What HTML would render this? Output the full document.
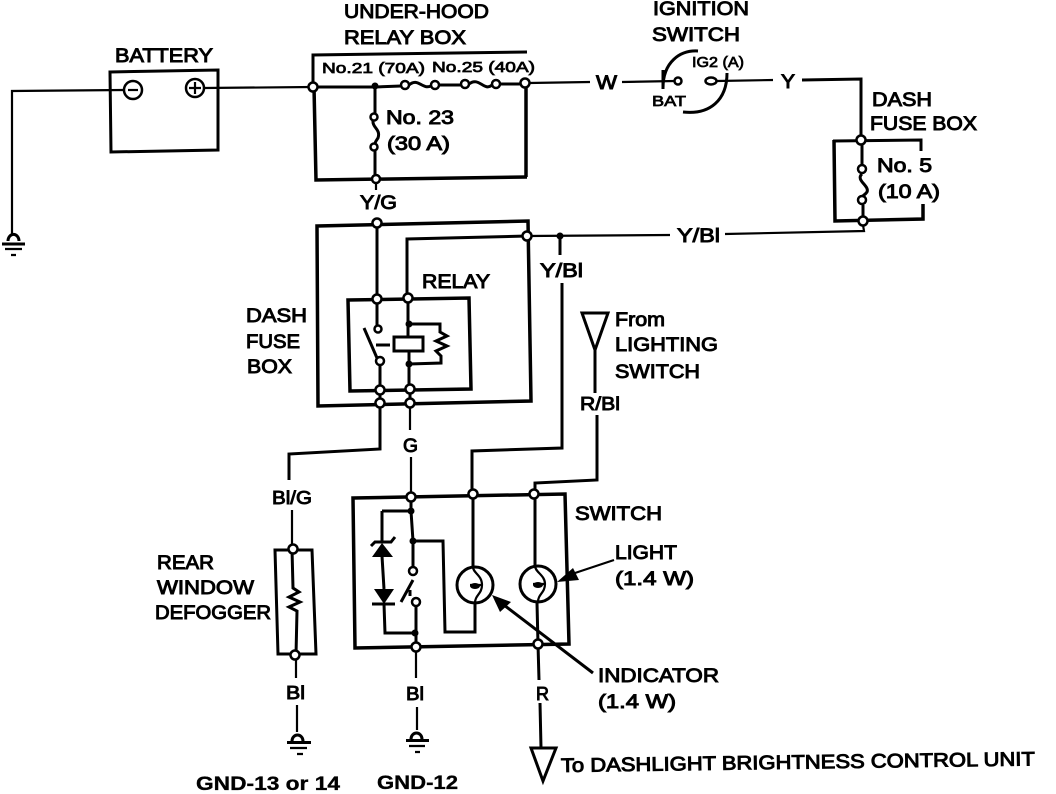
<!DOCTYPE html>
<html><head><meta charset="utf-8"><style>
html,body{margin:0;padding:0;background:#fff}
svg{display:block}
text{font-family:"Liberation Sans",sans-serif;fill:#000;stroke:#000;stroke-width:.95;font-size:19.500px}
.s{font-size:15px;stroke-width:.75}
.t{font-size:18px;stroke-width:.9}
.b{font-weight:bold;stroke-width:.35}
.w{fill:none;stroke:#000;stroke-width:2.2;stroke-linejoin:miter}
.h{fill:none;stroke:#000;stroke-width:3.5}
.m{fill:none;stroke:#000;stroke-width:3}
.j{fill:#fff;stroke:#000;stroke-width:2.5}
.d{fill:#000;stroke:none}
</style></head><body>
<svg width="1056" height="794" viewBox="0 0 1056 794" xmlns="http://www.w3.org/2000/svg">
<rect width="1056" height="794" fill="#fff"/>

<!-- Battery -->
<path class="w" d="M12 235V91L124 90"/>
<path class="m" d="M110 72L218 70V150L111 152Z"/>
<path class="w" d="M204 88L313 87"/>
<circle cx="133" cy="90" r="9" class="j"/><path class="w" d="M128 90H138"/>
<circle cx="195" cy="88" r="9" class="j"/><path class="w" d="M189 88H201M195 82V94"/>

<!-- Ground left -->
<path class="m" d="M8 241a5 6 0 0 1 11 0"/><path class="m" d="M2 244H25"/><path class="w" d="M5 249H22M11 255H16"/>

<!-- Under-hood relay box -->
<path class="m" d="M527 52L313 55V87"/>
<path class="h" d="M314 87L316 180L527 177"/>
<path class="h" d="M526 84V177"/>
<path class="m" d="M313 87H375L401 86M409 85C418 77 422 90 431 86M439 85H461M469 84C479 76 484 92 492 85M500 84H522"/>
<path class="w" d="M529 83L590 82"/>
<circle cx="405" cy="85" r="4" class="j"/><circle cx="435" cy="85" r="4" class="j"/>
<circle cx="465" cy="84" r="4" class="j"/><circle cx="496" cy="84" r="4" class="j"/>
<circle cx="375" cy="86" r="3.5" class="d"/>
<circle cx="313" cy="87" r="4.5" class="j"/><circle cx="525" cy="83" r="4.5" class="j"/>
<path class="m" d="M375 86V113M373 120C372 128 381 129 378 138C376 141 375 142 375 144M375 151V176"/>
<circle cx="374" cy="117" r="3.5" class="j"/><circle cx="374" cy="147" r="3.5" class="j"/>
<circle cx="376" cy="179" r="4" class="j"/>
<path class="w" d="M376 183V190"/>

<!-- Ignition switch -->
<path class="w" d="M622 82L675 81M717 81L773 80"/>
<path class="m" d="M698 51C680 50 663 62 663 88M663 70V89M683 112C710 115 727 100 727 73"/>
<circle cx="678" cy="81" r="3.5" class="j"/><ellipse cx="711" cy="81" rx="5.5" ry="3.5" class="j"/>
<path class="m" d="M802 80L861 79V140"/>

<!-- Dash fuse box top right -->
<path class="m" d="M921 151V140L833 141"/>
<path class="h" d="M834 140L835 221L923 219V204"/>
<path class="m" d="M862 141V165M862 174C855 180 870 186 867 192C865 195 862 196 862 197M863 205V221"/>
<circle cx="862" cy="169" r="4" class="j"/><circle cx="862" cy="200" r="4" class="j"/>
<circle cx="861" cy="140" r="4.5" class="j"/><circle cx="863" cy="221" r="4.5" class="j"/>
<path class="w" d="M863 225L864 231L725 234M670 235L527 236"/>
<circle cx="560" cy="236" r="3.5" class="d"/>
<path class="m" d="M560 236V255M562 283V448L472 451V492"/>

<!-- Dash fuse box centre -->
<path class="h" d="M317 226L528 221L531 401L318 406Z"/>
<path class="m" d="M527 236L407 239V298M377 223V299M377 299V325"/>
<circle cx="377" cy="223" r="4.5" class="j"/><circle cx="527" cy="236" r="4.5" class="j"/>

<!-- Relay -->
<path class="h" d="M348 300L469 298L471 389L350 391Z"/>
<circle cx="378" cy="329" r="3.5" class="j"/>
<path class="m" d="M364 328L377 358M376 345H390"/>
<rect x="394" y="337" width="29" height="14" fill="#fff" stroke="#000" stroke-width="3"/>
<path class="m" d="M408 298V337M409 351V389"/>
<circle cx="409" cy="324" r="3.5" class="d"/><circle cx="409" cy="364" r="3.5" class="d"/>
<path class="m" d="M409 324H440V332L447 336L436 341L447 346L436 351L441 356V363L409 364"/>
<path class="m" d="M380 365V403M410 389V403"/>
<circle cx="380" cy="361" r="4" class="j"/>
<circle cx="377" cy="299" r="4.5" class="j"/><circle cx="408" cy="298" r="4.5" class="j"/>
<circle cx="380" cy="390" r="4.5" class="j"/><circle cx="410" cy="389" r="4.5" class="j"/>
<circle cx="380" cy="403" r="4.5" class="j"/><circle cx="410" cy="403" r="4.5" class="j"/>
<path class="m" d="M380 407V449L289 454V480"/>
<path class="w" d="M410 407V430M411 457V493"/>

<!-- Lighting feed -->
<path class="m" d="M582 313H608L595 350ZM595 350V393M597 415V480L535 483V494"/>

<!-- Defogger -->
<path class="w" d="M292 510V545"/>
<path class="m" d="M275 550H312L316 654H278Z"/>
<path class="m" d="M292 549L293 588L299 592L289 597L300 602L289 607L297 611L296 655"/>
<circle cx="293" cy="549" r="4.5" class="j"/><circle cx="295" cy="655" r="4.5" class="j"/>
<path class="w" d="M296 660V678M297 705V732"/>
<path class="m" d="M292 741a5.500 6 0 0 1 11 0M287 742.500H311"/><path class="w" d="M290 748H307M297 754H303"/>

<!-- Switch unit -->
<path class="h" d="M353 498L565 494L569 644L355 648Z"/>
<path class="m" d="M411 497V511L413 541V567M382 511H411M382 511V542M382 556L384 589M384 604L385 633H416V647M413 541H443L445 632H475V603M416 606V633"/>
<circle cx="411" cy="511" r="3.500" class="d"/><circle cx="413" cy="541" r="3.500" class="d"/><circle cx="415" cy="633" r="3.500" class="d"/>
<path class="d" d="M382 543L393 557H372Z"/>
<path class="m" d="M371 546L375 542H391L395 537"/>
<path class="d" d="M374 589H394L384 604Z"/>
<path class="m" d="M372 604H395"/>
<circle cx="413" cy="571" r="4" class="j"/><circle cx="416" cy="602" r="4" class="j"/>
<path class="m" d="M401 602L413 580M410 590V596"/>

<path class="m" d="M473 494V567M535 494V565"/>
<circle cx="475" cy="585" r="18" fill="#fff" stroke="#000" stroke-width="3"/>
<circle cx="538" cy="584" r="18" fill="#fff" stroke="#000" stroke-width="3"/>
<path class="w" d="M473 567C473 573 482 575 482 585C482 594 475 595 475 603M482 585H470"/>
<ellipse cx="475" cy="586" rx="5" ry="3" fill="#000"/>
<path class="w" d="M535 566C535 572 545 575 545 584C545 593 538 594 538 602M545 584H533"/>
<ellipse cx="538" cy="585" rx="5" ry="3" fill="#000"/>
<path class="m" d="M537 603L538 644M538 644L539 680M540 703L541 748"/>
<path class="m" d="M475 603V632"/>

<circle cx="411" cy="497" r="4.500" class="j"/><circle cx="473" cy="494" r="4.500" class="j"/><circle cx="534" cy="494" r="4.500" class="j"/>
<circle cx="416" cy="647" r="4.500" class="j"/><circle cx="538" cy="644" r="4.500" class="j"/>

<!-- Callout arrows -->
<path class="m" d="M500 602L593 673"/>
<path class="d" d="M492 595L511 602L500 612Z"/>
<path class="w" d="M572 574L614 560"/>
<path class="d" d="M557 582L573 568L579 580Z"/>

<!-- Bottom wires -->
<path class="w" d="M416 652V678M417 707V730"/>
<path class="m" d="M411 739a5.500 6 0 0 1 11 0M406 740.500H429"/><path class="w" d="M409 746H425M415 752H420"/>
<path class="m" d="M531 748H556L543 781Z"/>

<!-- Labels -->
<text x="344" y="18" textLength="145" lengthAdjust="spacingAndGlyphs">UNDER-HOOD</text>
<text x="344" y="44" textLength="122" lengthAdjust="spacingAndGlyphs">RELAY BOX</text>
<text x="115" y="62" textLength="98" lengthAdjust="spacingAndGlyphs">BATTERY</text>
<text class="s" x="322" y="73" textLength="103" lengthAdjust="spacingAndGlyphs">No.21 (70A)</text>
<text class="s" x="432" y="72" textLength="103" lengthAdjust="spacingAndGlyphs">No.25 (40A)</text>
<text x="386" y="124" textLength="68" lengthAdjust="spacingAndGlyphs">No. 23</text>
<text x="387" y="150" textLength="63" lengthAdjust="spacingAndGlyphs">(30 A)</text>
<text x="360" y="209" textLength="37" lengthAdjust="spacingAndGlyphs">Y/G</text>
<text x="596" y="89" textLength="21" lengthAdjust="spacingAndGlyphs">W</text>
<text x="781" y="88" textLength="14" lengthAdjust="spacingAndGlyphs">Y</text>
<text x="653" y="15" textLength="96" lengthAdjust="spacingAndGlyphs">IGNITION</text>
<text x="652" y="41" textLength="88" lengthAdjust="spacingAndGlyphs">SWITCH</text>
<text class="s" x="692" y="67" textLength="52" lengthAdjust="spacingAndGlyphs">IG2 (A)</text>
<text class="s" x="652" y="106" textLength="34" lengthAdjust="spacingAndGlyphs">BAT</text>
<text x="872" y="106" textLength="60" lengthAdjust="spacingAndGlyphs">DASH</text>
<text x="870" y="130" textLength="107" lengthAdjust="spacingAndGlyphs">FUSE BOX</text>
<text x="877" y="172" textLength="55" lengthAdjust="spacingAndGlyphs">No. 5</text>
<text x="878" y="198" textLength="62" lengthAdjust="spacingAndGlyphs">(10 A)</text>
<text x="677" y="242" textLength="43" lengthAdjust="spacingAndGlyphs">Y/Bl</text>
<text x="540" y="277" textLength="43" lengthAdjust="spacingAndGlyphs">Y/Bl</text>
<text x="422" y="288" textLength="68" lengthAdjust="spacingAndGlyphs">RELAY</text>
<text x="246" y="322" textLength="61" lengthAdjust="spacingAndGlyphs">DASH</text>
<text x="246" y="348" textLength="54" lengthAdjust="spacingAndGlyphs">FUSE</text>
<text x="247" y="373" textLength="45" lengthAdjust="spacingAndGlyphs">BOX</text>
<text x="403" y="452" textLength="15" lengthAdjust="spacingAndGlyphs">G</text>
<text x="615" y="326" textLength="50" lengthAdjust="spacingAndGlyphs">From</text>
<text x="615" y="351" textLength="103" lengthAdjust="spacingAndGlyphs">LIGHTING</text>
<text x="615" y="378" textLength="85" lengthAdjust="spacingAndGlyphs">SWITCH</text>
<text class="t" x="580" y="410" textLength="40" lengthAdjust="spacingAndGlyphs">R/Bl</text>
<text x="575" y="520" textLength="87" lengthAdjust="spacingAndGlyphs">SWITCH</text>
<text x="615" y="559" textLength="62" lengthAdjust="spacingAndGlyphs">LIGHT</text>
<text x="615" y="585" textLength="79" lengthAdjust="spacingAndGlyphs">(1.4 W)</text>
<text class="t" x="272" y="504" textLength="40" lengthAdjust="spacingAndGlyphs">Bl/G</text>
<text x="157" y="569" textLength="57" lengthAdjust="spacingAndGlyphs">REAR</text>
<text x="157" y="594" textLength="97" lengthAdjust="spacingAndGlyphs">WINDOW</text>
<text x="155" y="619" textLength="116" lengthAdjust="spacingAndGlyphs">DEFOGGER</text>
<text class="t" x="286" y="699" textLength="19" lengthAdjust="spacingAndGlyphs">Bl</text>
<text class="t" x="406" y="700" textLength="18" lengthAdjust="spacingAndGlyphs">Bl</text>
<text class="t" x="536" y="700" textLength="13" lengthAdjust="spacingAndGlyphs">R</text>
<text x="598" y="682" textLength="121" lengthAdjust="spacingAndGlyphs">INDICATOR</text>
<text x="598" y="708" textLength="78" lengthAdjust="spacingAndGlyphs">(1.4 W)</text>
<text class="b" x="196" y="790" textLength="144" lengthAdjust="spacingAndGlyphs">GND-13 or 14</text>
<text class="b" x="377" y="789" textLength="81" lengthAdjust="spacingAndGlyphs">GND-12</text>
<text x="561" y="772" textLength="474" lengthAdjust="spacingAndGlyphs" transform="rotate(-0.8 561 772)">To DASHLIGHT BRIGHTNESS CONTROL UNIT</text>
</svg>
</body></html>
